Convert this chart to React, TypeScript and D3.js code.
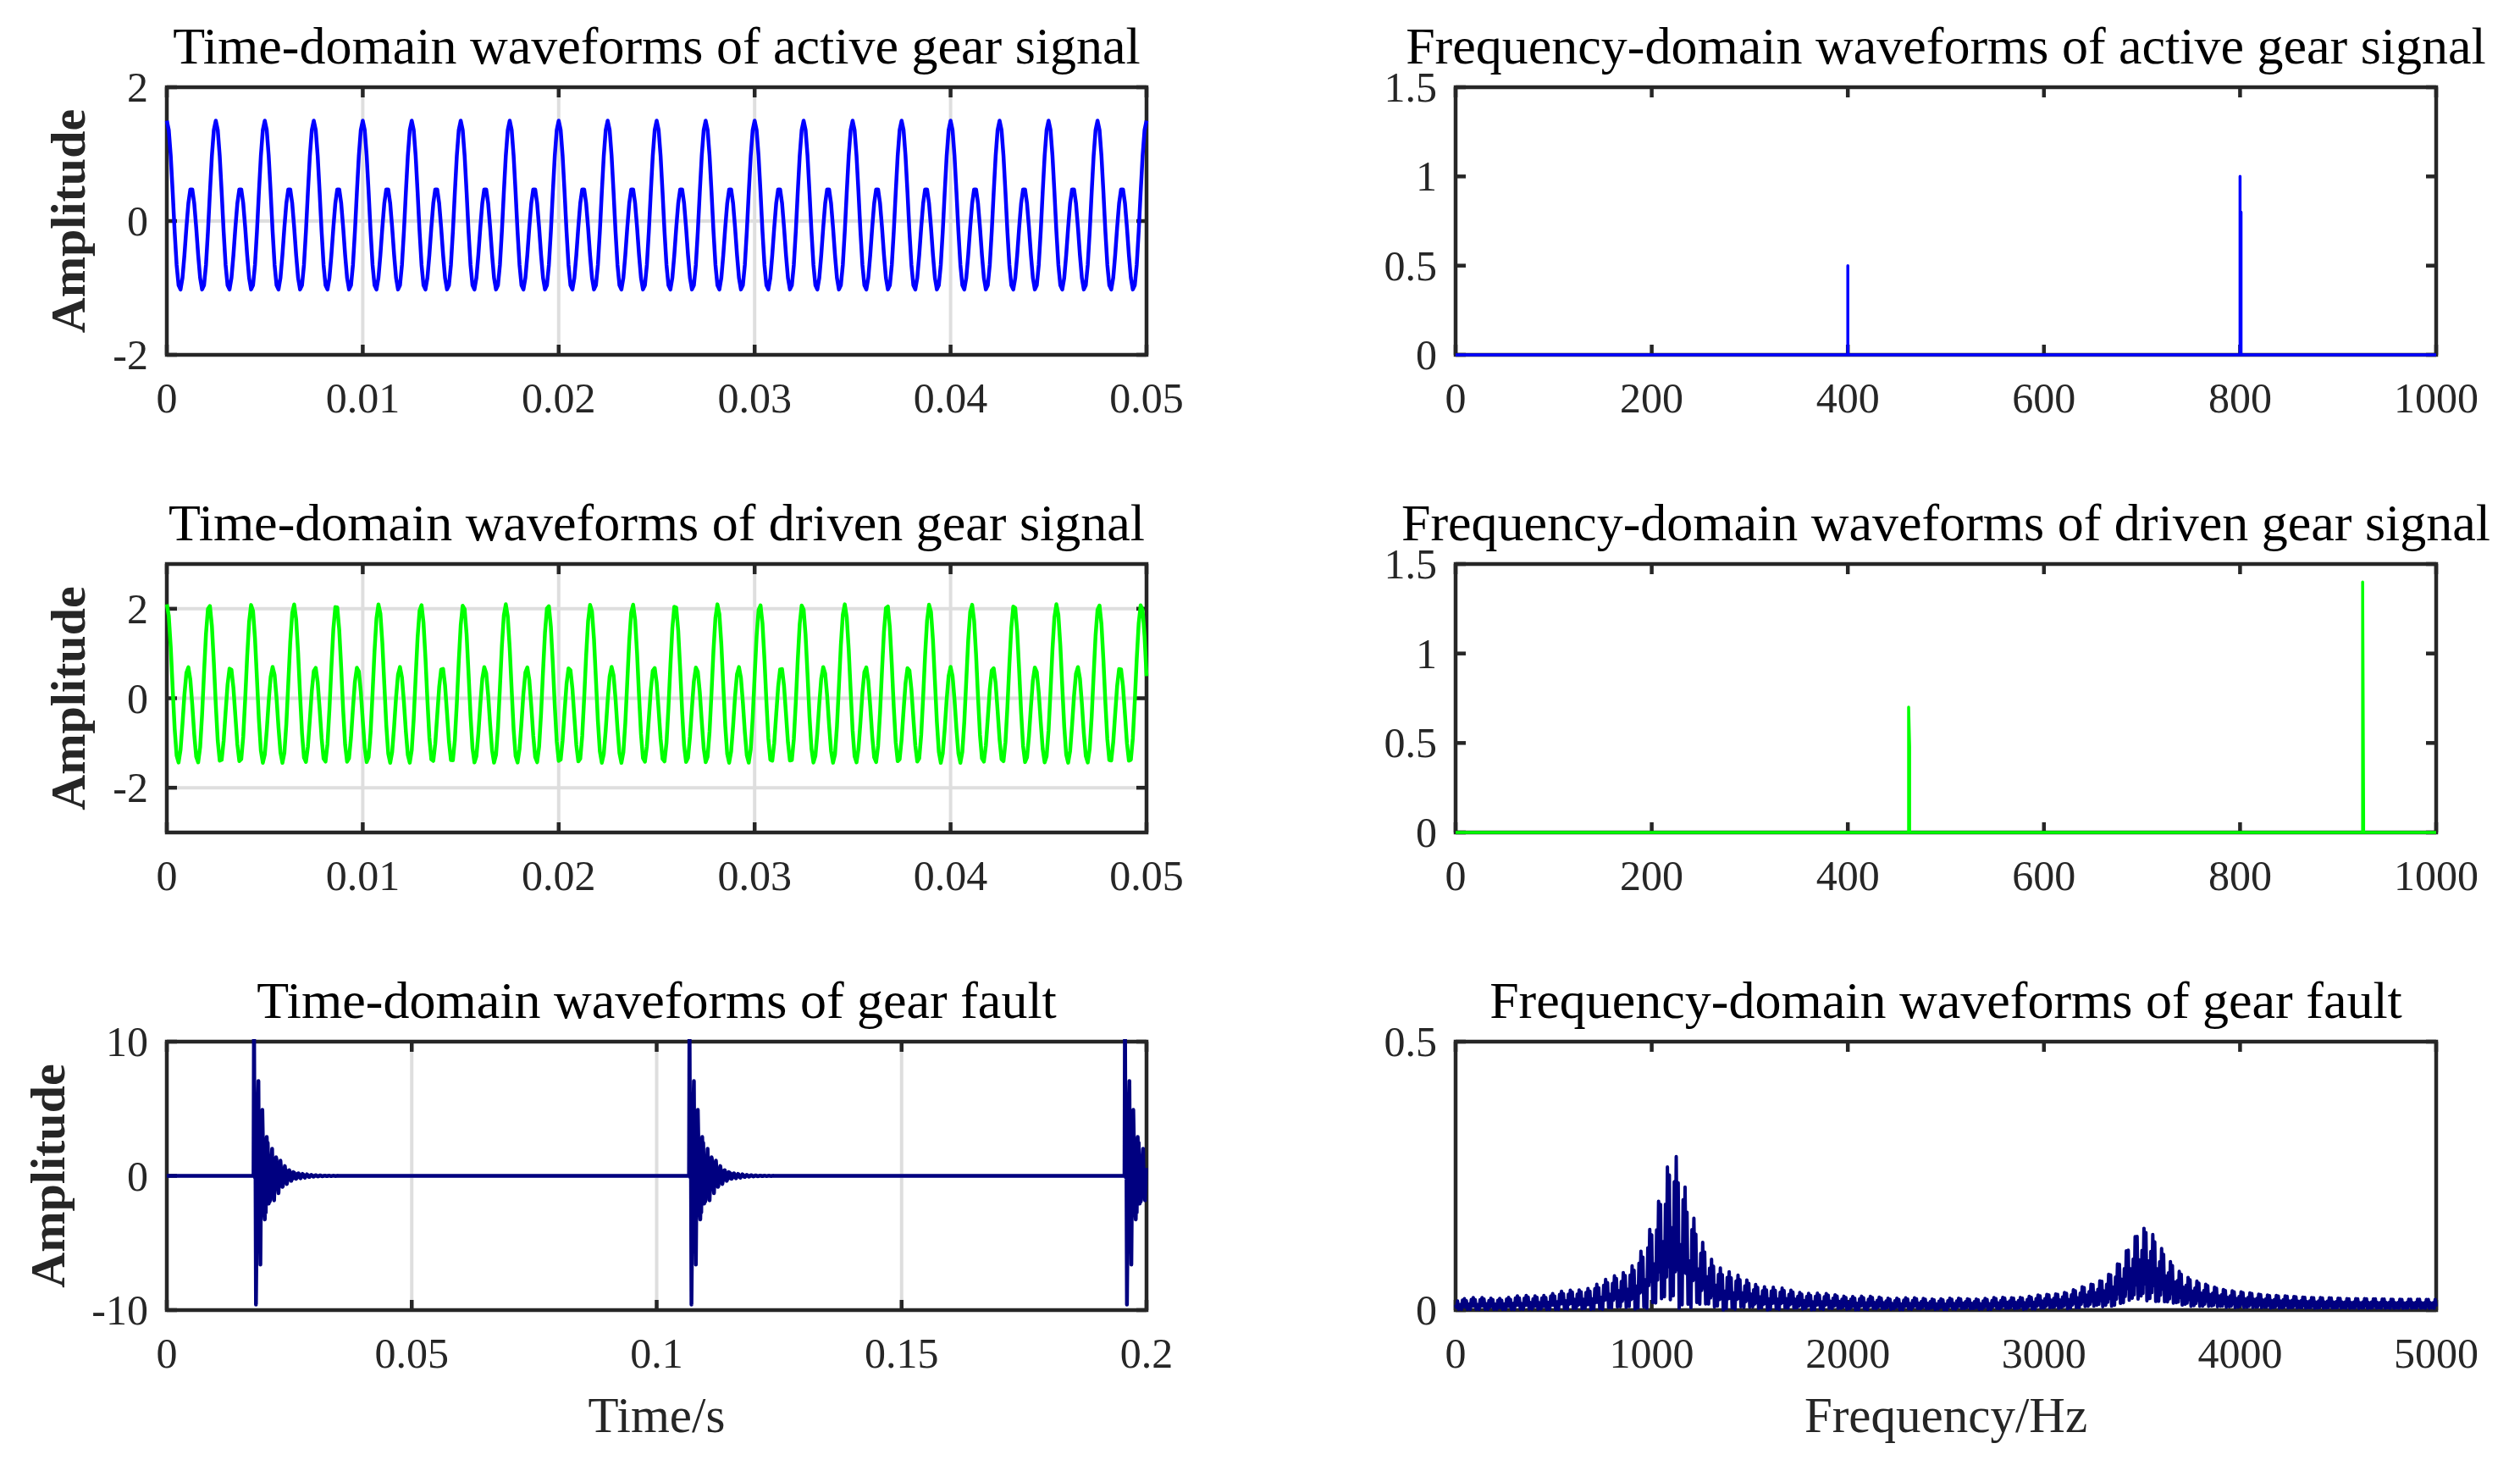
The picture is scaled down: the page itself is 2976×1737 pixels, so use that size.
import React from "react";
import * as d3 from "d3";

// ---------------- DATA ----------------
// Active gear: two harmonic components (Hz, amplitude)
const activeFreqs = [400, 800];
const activeAmps = [0.5, 1.0];
// Driven gear
const drivenFreqs = [462.5, 925];
const drivenAmps = [0.7, 1.4];
// Spectrum spikes as plotted (frequency, amplitude) incl. adjacent leakage bins
const activeSpecFreqs = [0, 400, 400, 400, 800, 800, 800, 801, 801, 1000];
const activeSpecAmps = [0, 0, 0.5, 0, 0, 1.0, 0, 0.8, 0, 0];
const drivenSpecFreqs = [0, 462, 462, 463, 463, 925, 925, 926, 926, 1000];
const drivenSpecAmps = [0, 0, 0.7, 0.48, 0, 0, 1.4, 0.08, 0, 0];
// Gear fault: impact times (s), resonance modes
const faultImpactTimes = [0.0178, 0.1067, 0.1956];
const faultModeFreqs = [1110, 3510];
const faultModeAmps = [7.7, 5.2];
const faultModeDamping = [400, 560];
const sampleRate = 10000;

// tick labels
const timeTicksA = [0, 0.01, 0.02, 0.03, 0.04, 0.05];
const timeTicksFault = [0, 0.05, 0.1, 0.15, 0.2];
const ampTicksA = [-2, 0, 2];
const ampTicksB = [-2, 0, 2];
const ampTicksFault = [-10, 0, 10];
const freqTicks = [0, 200, 400, 600, 800, 1000];
const freqTicksFault = [0, 1000, 2000, 3000, 4000, 5000];
const specTicks = [0, 0.5, 1, 1.5];
const specTicksFault = [0, 0.5];

const titles = [
  "Time-domain waveforms of active gear signal",
  "Frequency-domain waveforms of active gear signal",
  "Time-domain waveforms of driven gear signal",
  "Frequency-domain waveforms of driven gear signal",
  "Time-domain waveforms of gear fault",
  "Frequency-domain waveforms of gear fault",
];

// ---------------- signal synthesis from the read parameters ----------------
function synth(freqs: number[], amps: number[], dur: number) {
  const n = Math.round(dur * sampleRate) + 1;
  const out: [number, number][] = [];
  for (let i = 0; i < n; i++) {
    const t = i / sampleRate;
    let v = 0;
    for (let k = 0; k < freqs.length; k++) v += amps[k] * Math.cos(2 * Math.PI * freqs[k] * t);
    out.push([t, v]);
  }
  return out;
}

function faultSignal(dur: number) {
  const n = Math.round(dur * sampleRate);
  const vals: number[] = new Array(n).fill(0);
  for (let i = 0; i < n; i++) {
    const t = i / sampleRate;
    let v = 0;
    for (const t0 of faultImpactTimes) {
      if (t >= t0) {
        const dt = t - t0;
        for (let m = 0; m < faultModeFreqs.length; m++) {
          v += faultModeAmps[m] * Math.exp(-faultModeDamping[m] * dt) * Math.cos(2 * Math.PI * faultModeFreqs[m] * dt);
        }
      }
    }
    vals[i] = v;
  }
  return vals;
}

function spectrum(vals: number[]) {
  const N = vals.length;
  const cosT = new Float64Array(N);
  const sinT = new Float64Array(N);
  for (let i = 0; i < N; i++) {
    cosT[i] = Math.cos((2 * Math.PI * i) / N);
    sinT[i] = Math.sin((2 * Math.PI * i) / N);
  }
  const out: [number, number][] = [];
  for (let k = 0; k <= N / 2; k++) {
    let re = 0, im = 0;
    for (let n = 0; n < N; n++) {
      const idx = (k * n) % N;
      re += vals[n] * cosT[idx];
      im -= vals[n] * sinT[idx];
    }
    const a = (k === 0 ? 1 : 2) * Math.sqrt(re * re + im * im) / N;
    out.push([(k * sampleRate) / N, a]);
  }
  return out;
}

// ---------------- layout ----------------
const W = 2976, H = 1737;
const COLS = [{ x0: 197, x1: 1354 }, { x0: 1719, x1: 2877 }];
const ROWS = [{ y0: 103, y1: 419 }, { y0: 666, y1: 983 }, { y0: 1230, y1: 1547 }];
const AXC = "#262626";
const FONT = "'Liberation Serif', 'Times New Roman', serif";

type PanelProps = {
  id: string;
  col: number; row: number;
  xDomain: [number, number]; yDomain: [number, number];
  xTicks: number[]; yTicks: number[];
  grid: boolean;
  title: string;
  ylabel?: string; ylabelX?: number;
  xlabel?: string;
  data: [number, number][];
  color: string; lw: number;
};

function Panel(p: PanelProps) {
  const { x0, x1 } = COLS[p.col];
  const { y0, y1 } = ROWS[p.row];
  const x = d3.scaleLinear().domain(p.xDomain).range([x0, x1]);
  const y = d3.scaleLinear().domain(p.yDomain).range([y1, y0]);
  const line = d3.line<[number, number]>().x((d) => x(d[0])).y((d) => y(d[1]));
  const tl = 12;
  const cx = (x0 + x1) / 2;
  return (
    <g>
      <defs>
        <clipPath id={p.id}>
          <rect x={x0 - 3} y={y0 - 3} width={x1 - x0 + 6} height={y1 - y0 + 6} />
        </clipPath>
      </defs>
      {p.grid && (
        <g stroke="#dedede" strokeWidth={4}>
          {p.xTicks.map((t) => (
            <line key={"gx" + t} x1={x(t)} x2={x(t)} y1={y0} y2={y1} />
          ))}
          {p.yTicks.map((t) => (
            <line key={"gy" + t} x1={x0} x2={x1} y1={y(t)} y2={y(t)} />
          ))}
        </g>
      )}
      <rect x={x0} y={y0} width={x1 - x0} height={y1 - y0} fill="none" stroke={AXC} strokeWidth={4.5} />
      <g stroke={AXC} strokeWidth={4.5}>
        {p.xTicks.map((t) => (
          <g key={"tx" + t}>
            <line x1={x(t)} x2={x(t)} y1={y1} y2={y1 - tl} />
            <line x1={x(t)} x2={x(t)} y1={y0} y2={y0 + tl} />
          </g>
        ))}
        {p.yTicks.map((t) => (
          <g key={"ty" + t}>
            <line x1={x0} x2={x0 + tl} y1={y(t)} y2={y(t)} />
            <line x1={x1} x2={x1 - tl} y1={y(t)} y2={y(t)} />
          </g>
        ))}
      </g>
      <g fill={AXC} fontFamily={FONT} fontSize={50}>
        {p.xTicks.map((t) => (
          <text key={"lx" + t} x={x(t)} y={y1 + 68} textAnchor="middle">
            {String(t)}
          </text>
        ))}
        {p.yTicks.map((t) => (
          <text key={"ly" + t} x={x0 - 22} y={y(t)} textAnchor="end" dominantBaseline="central">
            {String(t)}
          </text>
        ))}
      </g>
      <path
        d={line(p.data) || ""}
        fill="none"
        stroke={p.color}
        strokeWidth={p.lw}
        strokeLinejoin="round"
        clipPath={`url(#${p.id})`}
      />
      <text x={cx} y={y0 - 28} textAnchor="middle" fontFamily={FONT} fontSize={62} fill="#000">
        {p.title}
      </text>
      {p.ylabel && (
        <text
          transform={`translate(${p.ylabelX},${(y0 + y1) / 2}) rotate(-90)`}
          textAnchor="middle"
          fontFamily={FONT}
          fontSize={58}
          fontWeight="bold"
          fill={AXC}
        >
          {p.ylabel}
        </text>
      )}
      {p.xlabel && (
        <text x={cx} y={y1 + 144} textAnchor="middle" fontFamily={FONT} fontSize={59} fill={AXC}>
          {p.xlabel}
        </text>
      )}
    </g>
  );
}

export default function App() {
  const active = React.useMemo(() => synth(activeFreqs, activeAmps, 0.05), []);
  const driven = React.useMemo(() => synth(drivenFreqs, drivenAmps, 0.05), []);
  const activeSpec = activeSpecFreqs.map((f, i) => [f, activeSpecAmps[i]] as [number, number]);
  const drivenSpec = drivenSpecFreqs.map((f, i) => [f, drivenSpecAmps[i]] as [number, number]);
  const faultVals = React.useMemo(() => faultSignal(0.2), []);
  const fault = faultVals.map((v, i) => [i / sampleRate, v] as [number, number]);
  const faultSpec = React.useMemo(() => spectrum(faultVals), [faultVals]);

  return (
    <svg
      width={W}
      height={H}
      viewBox={`0 0 ${W} ${H}`}
      style={{ position: "absolute", left: 0, top: 0, display: "block", background: "#fff" }}
    >
      <rect x={0} y={0} width={W} height={H} fill="#fff" />
      <Panel id="c1" col={0} row={0} xDomain={[0, 0.05]} yDomain={[-2, 2]} xTicks={timeTicksA} yTicks={ampTicksA}
        grid title={titles[0]} ylabel="Amplitude" ylabelX={100} data={active} color="#0000ff" lw={4.5} />
      <Panel id="c2" col={1} row={0} xDomain={[0, 1000]} yDomain={[0, 1.5]} xTicks={freqTicks} yTicks={specTicks}
        grid={false} title={titles[1]} data={activeSpec} color="#0000ff" lw={3.5} />
      <Panel id="c3" col={0} row={1} xDomain={[0, 0.05]} yDomain={[-3, 3]} xTicks={timeTicksA} yTicks={ampTicksB}
        grid title={titles[2]} ylabel="Amplitude" ylabelX={100} data={driven} color="#00ff00" lw={4.5} />
      <Panel id="c4" col={1} row={1} xDomain={[0, 1000]} yDomain={[0, 1.5]} xTicks={freqTicks} yTicks={specTicks}
        grid={false} title={titles[3]} data={drivenSpec} color="#00ff00" lw={3.5} />
      <Panel id="c5" col={0} row={2} xDomain={[0, 0.2]} yDomain={[-10, 10]} xTicks={timeTicksFault} yTicks={ampTicksFault}
        grid title={titles[4]} ylabel="Amplitude" ylabelX={76} xlabel="Time/s" data={fault} color="#000080" lw={4.5} />
      <Panel id="c6" col={1} row={2} xDomain={[0, 5000]} yDomain={[0, 0.5]} xTicks={freqTicksFault} yTicks={specTicksFault}
        grid={false} title={titles[5]} xlabel="Frequency/Hz" data={faultSpec} color="#000080" lw={4} />
    </svg>
  );
}
